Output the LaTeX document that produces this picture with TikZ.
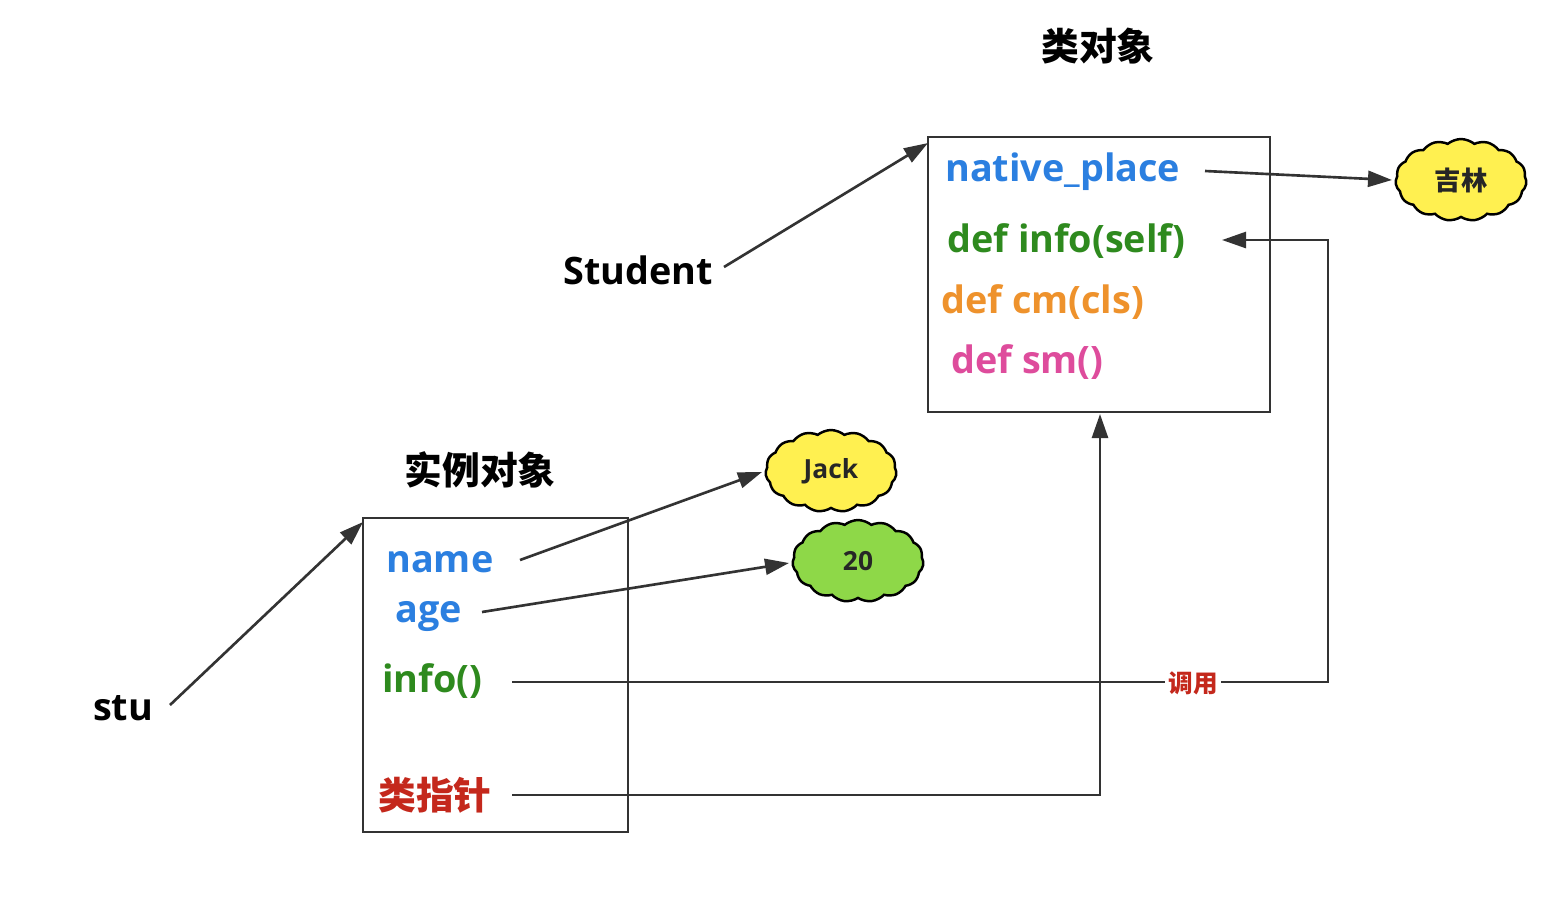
\documentclass[tikz,border=0pt]{standalone}
\usepackage{fontspec}
\setmainfont{Open Sans}
\newfontfamily\cjk{Noto Sans CJK SC}
\usetikzlibrary{shapes.symbols,arrows.meta}
\definecolor{lblue}{HTML}{2B7FE0}
\definecolor{lgreen}{HTML}{2E8A1E}
\definecolor{lorange}{HTML}{EE922C}
\definecolor{lpink}{HTML}{DE4C9C}
\definecolor{lred}{HTML}{C4281C}
\definecolor{cyell}{HTML}{FFF050}
\definecolor{cgreen}{HTML}{8ED848}
\definecolor{lineg}{HTML}{333333}
\tikzset{
  txt/.style={font=\fontsize{21.5}{24}\selectfont\bfseries, inner sep=0pt, anchor=west},
  ctxt/.style={font=\fontsize{21.5}{24}\selectfont\cjk\bfseries, inner sep=0pt},
  box/.style={draw=lineg, line width=1.5pt},
  conn/.style={draw=lineg, line width=1.5pt},
  arr/.style={conn, -{Triangle[length=0.48cm,width=0.32cm]}},
  cloudy/.style={cloud, cloud puffs=15, cloud puff arc=80, cloud ignores aspect, draw=black, line width=1.4pt,
     minimum width=2.62cm, minimum height=1.64cm, inner sep=0pt,
     font=\fontsize{15}{18}\selectfont\bfseries, text=black!85},
}
\begin{document}
\begin{tikzpicture}[x=0.02cm,y=-0.02cm]
\useasboundingbox (0,0) rectangle (1548,914);
\fill[white] (0,0) rectangle (1548,914);
% class object
\node[ctxt] (ctitle) at (1098,46) {类对象};
\node[box, minimum width=6.84cm, minimum height=5.5cm, inner sep=0pt] (cbox) at (1099,274.5) {};
\node[txt, text=lblue] (np) at (945,172) {native\_place};
\node[txt, text=lgreen] (info) at (947,241) {def info(self)};
\node[txt, text=lorange] (cm) at (941,302) {def cm(cls)};
\node[txt, text=lpink] (sm) at (951,362) {def sm()};
\node[txt, anchor=center] (student) at (638,270) {Student};
\node[cloudy, fill=cyell, font=\fontsize{15}{18}\selectfont\cjk\bfseries] (jilin) at (1461,180) {吉林};
% instance object
\node[ctxt] (ititle) at (480,470) {实例对象};
\node[box, minimum width=5.3cm, minimum height=6.28cm, inner sep=0pt] (ibox) at (495.5,675) {};
\node[txt, text=lblue] (name) at (386,562) {name};
\node[txt, text=lblue] (age) at (395,616) {age};
\node[txt, text=lgreen] (iinfo) at (382,681) {info()};
\node[ctxt, anchor=west, text=lred] (ptr) at (378,795) {类指针};
\node[txt, anchor=center] (stu) at (123,708) {stu};
\node[cloudy, fill=cyell] (jack) at (831,471) {Jack};
\node[cloudy, fill=cgreen] (twenty) at (858,561) {20};
% coordinates
\coordinate (studentS) at (724,267);
\coordinate (cboxNW) at (928,143);
\coordinate (stuS) at (170,705);
\coordinate (iboxNW) at (363,522);
\coordinate (npS) at (1205,171);
\coordinate (jilinW) at (1392,180);
\coordinate (nameS) at (520,560);
\coordinate (jackW) at (762,472);
\coordinate (ageS) at (482,612);
\coordinate (twentyW) at (789,563);
\coordinate (iinfoS) at (512,682);
\coordinate (callC) at (1328,682);
\coordinate (callT) at (1328,240);
\coordinate (infoE) at (1222,240);
\coordinate (ptrS) at (512,795);
\coordinate (ptrC) at (1100,795);
\coordinate (cboxS) at (1100,414);
% connectors
\draw[arr] (studentS) -- (cboxNW);
\draw[arr] (stuS) -- (iboxNW);
\draw[arr] (npS) -- (jilinW);
\draw[arr] (nameS) -- (jackW);
\draw[arr] (ageS) -- (twentyW);
\draw[arr] (ptrS) -- (ptrC) -- (cboxS);
\draw[arr] (iinfoS) -- (callC) -- (callT) -- (infoE);
\node[fill=white, inner sep=2pt, text=lred, font=\fontsize{14}{16}\selectfont\cjk\bfseries] (call) at (1193,683) {调用};
\end{tikzpicture}
\end{document}
